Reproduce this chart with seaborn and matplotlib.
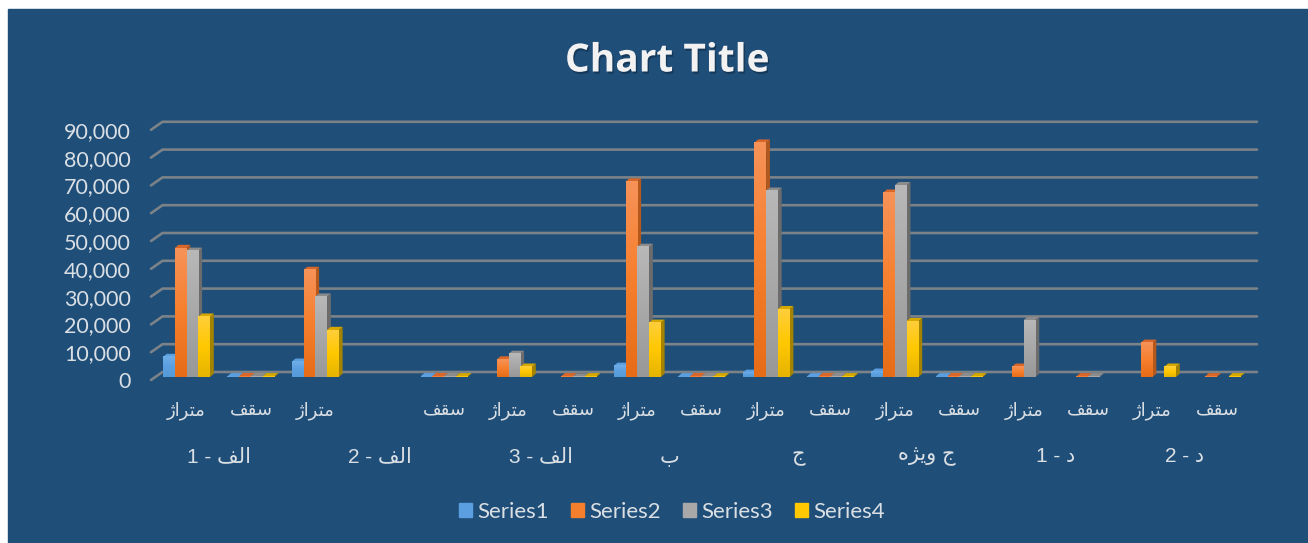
# -*- coding: utf-8 -*-
import numpy as np
import pandas as pd
import seaborn as sns
import matplotlib.pyplot as plt
import matplotlib.patheffects as pe
from matplotlib.colors import LinearSegmentedColormap
from matplotlib.patches import Patch, Polygon, Rectangle
from matplotlib.transforms import ScaledTranslation

# данные
row_labels = ['متراژ', 'سقف', 'متراژ', '', 'سقف', 'متراژ', 'سقف', 'متراژ', 'سقف',
              'متراژ', 'سقف', 'متراژ', 'سقف', 'متراژ', 'سقف', 'متراژ', 'سقف']
group_labels = ['الف - 1', 'الف - 2', 'الف - 3', 'ب', 'ج', 'ج ویژه', 'د - 1', 'د - 2']
group_spans = [(0, 1), (2, 4), (5, 6), (7, 8), (9, 10), (11, 12), (13, 14), (15, 16)]
series_names = ['Series1', 'Series2', 'Series3', 'Series4']
series1 = [7200, 250, 5500, 0, 250, 0, 0, 4000, 250, 1500, 250, 1900, 250, 0, 0, 0, 0]
series2 = [46400, 300, 38500, 0, 300, 6300, 250, 70300, 300, 84300, 300, 66300, 300, 3700, 250, 12300, 250]
series3 = [45400, 300, 28900, 0, 300, 8300, 150, 46800, 300, 67000, 300, 69000, 300, 20500, 250, 0, 0]
series4 = [21700, 250, 16900, 0, 250, 3700, 250, 19500, 250, 24400, 250, 20100, 250, 0, 0, 3700, 250]
y_ticks = [0, 10000, 20000, 30000, 40000, 50000, 60000, 70000, 80000, 90000]
title_text = 'Chart Title'

# стили серий: верх, середина, низ грани, боковая и верхняя грани
face_colors = {
    'Series1': ('#6FAEE8', '#5B9FE0', '#559AD8'),
    'Series2': ('#F79258', '#F67F2D', '#E76C17'),
    'Series3': ('#B8B8B8', '#A8A8A8', '#989898'),
    'Series4': ('#FFCE3A', '#FFC800', '#E6B400'),
}
side_colors = {'Series1': '#3C74A8', 'Series2': '#B5581C', 'Series3': '#6C6C6C', 'Series4': '#A38300'}
top_colors = {'Series1': '#5B9FE0', 'Series2': '#D9672A', 'Series3': '#8C8C8C', 'Series4': '#D6A800'}
legend_colors = {'Series1': '#5B9FE0', 'Series2': '#F67F2D', 'Series3': '#A8A8A8', 'Series4': '#FFC800'}
BG = '#1F4E79'
TEXT = '#DADFE4'
GRID = '#7B8288'

W, H = 1308, 543
PX_PER_SLOT = 64.4
PX_PER_VALUE = 0.00278
BASE_Y = 377
FIRST_X = 186.5


def shape_persian(text):
    """matplotlib не соединяет арабские буквы: подставляем формы и разворачиваем строку."""
    forms = {
        'ا': 'ﺍﺎ', 'ب': 'ﺏﺐﺑﺒ', 'ت': 'ﺕﺖﺗﺘ', 'ج': 'ﺝﺞﺟﺠ', 'د': 'ﺩﺪ', 'ر': 'ﺭﺮ',
        'ژ': 'ﮊﮋ', 'س': 'ﺱﺲﺳﺴ', 'ف': 'ﻑﻒﻓﻔ', 'ق': 'ﻕﻖﻗﻘ', 'ل': 'ﻝﻞﻟﻠ', 'م': 'ﻡﻢﻣﻤ',
        'ه': 'ﻩﻪﻫﻬ', 'و': 'ﻭﻮ', 'ی': 'ﯼﯽﯾﯿ',
    }
    result = []
    for i, ch in enumerate(text):
        if ch not in forms:
            result.append(ch)
            continue
        prev = text[i - 1] if i > 0 else ''
        nxt = text[i + 1] if i + 1 < len(text) else ''
        joins_prev = prev in forms and len(forms[prev]) == 4
        joins_next = nxt in forms and len(forms[ch]) == 4
        idx = {(False, False): 0, (True, False): 1, (False, True): 2, (True, True): 3}[(joins_prev, joins_next)]
        result.append(forms[ch][idx])
    return ''.join(result)[::-1]


df = pd.DataFrame({
    'slot': np.tile(np.arange(len(row_labels)), 4),
    'series': np.repeat(series_names, len(row_labels)),
    'value': series1 + series2 + series3 + series4,
})

sns.set_theme(style='white')
plt.rcParams['font.family'] = ['Lato', 'DejaVu Sans']
ar_font = ['Liberation Sans', 'DejaVu Sans']

fig = plt.figure(figsize=(W / 100, H / 100), dpi=100, facecolor='white')
fig.patches.append(Rectangle((8 / W, 0), 1, 1 - 9 / H, transform=fig.transFigure, color=BG, zorder=-5))

# границы осей в пикселях
left, right, top, bottom = 151, 1257, 105, 395
ax = fig.add_axes([left / W, 1 - bottom / H, (right - left) / W, (bottom - top) / H])
ax.patch.set_alpha(0)

sns.barplot(data=df, x='slot', y='value', hue='series', hue_order=series_names,
            palette=legend_colors, saturation=1, width=0.73, gap=0, legend=False, ax=ax)

xlim = ((left - FIRST_X) / PX_PER_SLOT, (right - FIRST_X) / PX_PER_SLOT)
ylim = ((BASE_Y - bottom) / PX_PER_VALUE, (BASE_Y - top) / PX_PER_VALUE)

# сетка с диагональным заездом на переднюю плоскость
for tick in y_ticks:
    xs = np.array([left, 162.5, right])
    ys = tick + np.array([-1080, 1800, 1800])
    ax.plot((xs - FIRST_X) / PX_PER_SLOT, ys, color=GRID, lw=1.9, zorder=1, clip_on=False,
            solid_joinstyle='round')

# объём столбцов: градиент, боковая и верхняя грани
dx = 3.8 / PX_PER_SLOT
dy = 3.2 / PX_PER_VALUE
order = 3
for name, container in zip(series_names, ax.containers):
    cmap = LinearSegmentedColormap.from_list(name, list(face_colors[name])[::-1])
    for bar in container:
        h = bar.get_height()
        bar.set_visible(False)
        if not h > 0:
            continue
        x0, w = bar.get_x(), bar.get_width()
        ax.add_patch(Polygon([(x0 + w, 0), (x0 + w + dx, dy), (x0 + w + dx, h + dy), (x0 + w, h)],
                             color=side_colors[name], lw=0, zorder=order))
        ax.add_patch(Polygon([(x0, h), (x0 + dx, h + dy), (x0 + w + dx, h + dy), (x0 + w, h)],
                             color=top_colors[name], lw=0, zorder=order))
        ax.imshow(np.linspace(0, 1, 64)[:, None], extent=(x0, x0 + w, 0, h), origin='lower',
                  aspect='auto', cmap=cmap, vmin=0, vmax=1, zorder=order + 0.5, interpolation='bilinear')
        order += 1

ax.set_xlim(xlim)
ax.set_ylim(ylim)
sns.despine(ax=ax, left=True, bottom=True)
ax.set_xlabel('')
ax.set_ylabel('')

ax.set_yticks(y_ticks)
ax.set_yticklabels([f'{v:,}' for v in y_ticks], fontsize=15.5, color=TEXT)
ax.tick_params(axis='y', length=0, pad=14.5)
ax.set_xticks(range(len(row_labels)))
ax.set_xticklabels([shape_persian(s) for s in row_labels], fontsize=13, color=TEXT, family=ar_font)
ax.tick_params(axis='x', length=0, pad=4.5)
# подписи оси Y стоят на передней плоскости, ниже задней сетки
for lab in ax.get_yticklabels():
    lab.set_transform(lab.get_transform() + ScaledTranslation(0, -3 / 100, fig.dpi_scale_trans))

for label, (a, b) in zip(group_labels, group_spans):
    ax.text((a + b) / 2, 1 - (456.5 - top) / (bottom - top), shape_persian(label),
            transform=ax.get_xaxis_transform(), ha='center', va='center',
            fontsize=15, color=TEXT, family=ar_font)

title = fig.text(667 / W, 1 - 61 / H, title_text, ha='center', va='center', fontsize=28,
                 fontweight='bold', family=['Open Sans', 'DejaVu Sans'], color='#F2F2F2')
title.set_path_effects([pe.withSimplePatchShadow(offset=(1, -1.5), shadow_rgbFace='#0E2A44', alpha=0.6)])

handles = [Patch(color=legend_colors[n]) for n in series_names]
fig.legend(handles, series_names, loc='center', bbox_to_anchor=(672 / W, 1 - 512 / H), ncol=4,
           frameon=False, fontsize=16, labelcolor=TEXT, handlelength=0.6, handleheight=0.6,
           handletextpad=0.225, columnspacing=0.99)

fig.savefig('out.png', dpi=100, facecolor='white')
